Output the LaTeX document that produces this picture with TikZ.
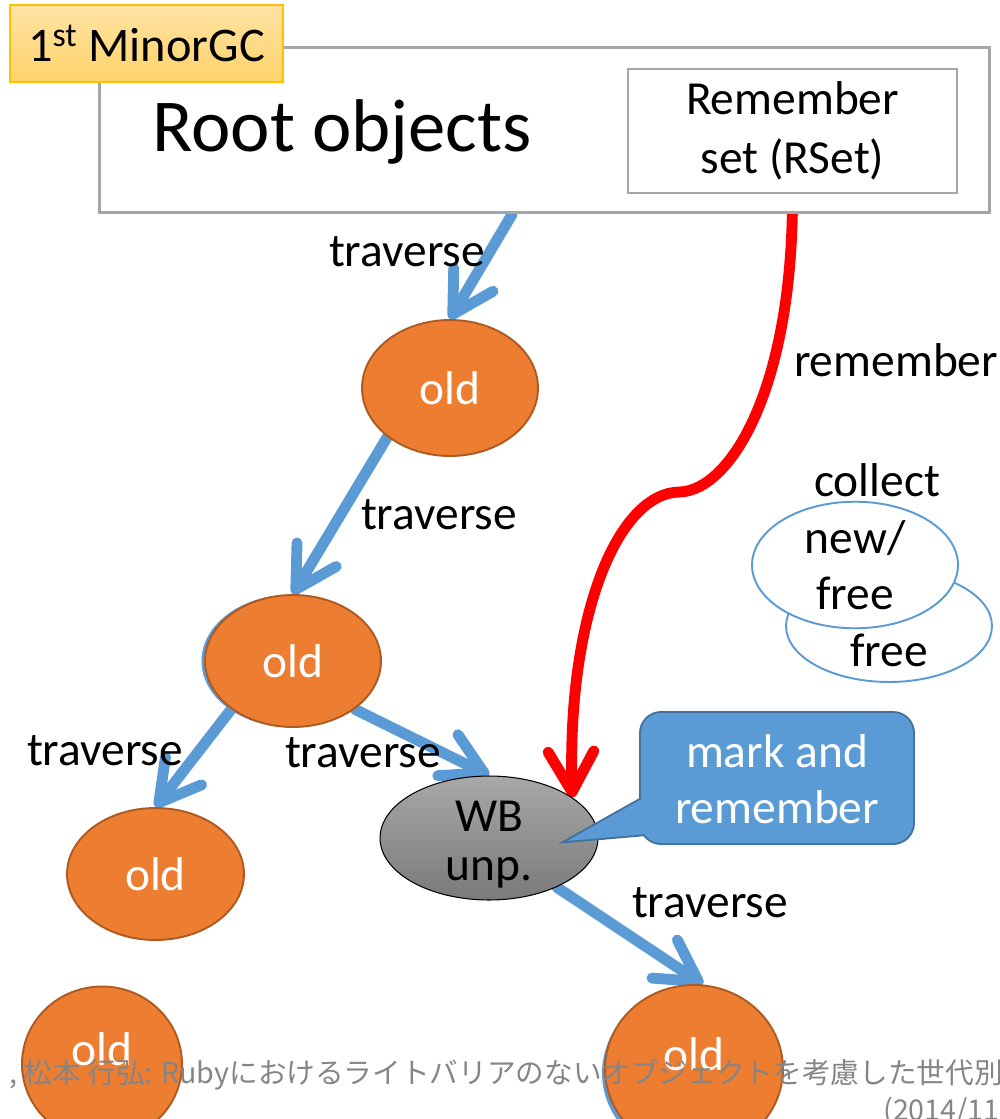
\documentclass[tikz,border=0pt]{standalone}
\usepackage{fontspec}
\setmainfont{Carlito}
\newfontfamily\jpfont{Noto Sans CJK JP}
\usetikzlibrary{arrows.meta,shapes.geometric,calc}
\pgfdeclarelayer{bg}
\pgfsetlayers{bg,main}
\definecolor{orangeF}{HTML}{ED7D31}
\definecolor{orangeD}{HTML}{AE5A21}
\definecolor{blueA}{HTML}{5B9BD5}
\definecolor{blueD}{HTML}{41719C}
\definecolor{boxgray}{HTML}{A6A6A6}
\definecolor{minorTop}{HTML}{FFE3A3}
\definecolor{minorBot}{HTML}{FFD36B}
\definecolor{minorBorder}{HTML}{FFC000}
\definecolor{wbTop}{HTML}{A8A8A8}
\definecolor{wbBot}{HTML}{7A7A7A}
\definecolor{citegray}{HTML}{858585}
\begin{document}
\begin{tikzpicture}[x=0.02cm,y=-0.02cm,
  font=\fontsize{27}{32}\selectfont,
  grbox/.style={draw=boxgray, fill=white, inner sep=0pt},
  minorbox/.style={draw=minorBorder, line width=1.1pt, top color=minorTop, bottom color=minorBot,
     minimum width=5.46cm, minimum height=1.54cm, inner sep=0pt, font=\fontsize{27.5}{32}\selectfont},
  oldnode/.style={ellipse, draw=orangeD, fill=orangeF, line width=1.1pt, text=white, inner sep=0pt},
  freeell/.style={ellipse, draw=blueA, fill=white, line width=1.1pt, inner sep=0pt},
  bluearr/.style={draw=blueA, line width=6.2pt, line cap=round,
     -{Straight Barb[length=23pt,width=26pt,round]}},
  redarr/.style={draw=red, line width=6.2pt, line cap=round,
     -{Straight Barb[length=23pt,width=26pt,round]}},
  cite/.style={anchor=east, inner sep=0pt, text=citegray, font=\jpfont\fontsize{16.3}{20}\selectfont}
]
\useasboundingbox (0,0) rectangle (1000,1119);

% boxes
\node[grbox, line width=1.7pt, minimum width=17.82cm, minimum height=3.32cm] (root) at (544.5,130) {};
\node[font=\fontsize{42.5}{50}\selectfont] (rootlabel) at (342,132) {Root objects};
\node[grbox, line width=1.4pt, minimum width=6.58cm, minimum height=2.48cm, align=center,
      font=\fontsize{27}{33.5}\selectfont] (rset) at (792.5,131) {Remember\\set (RSet)};
\node[minorbox] (minor) at (146.5,43.5) {1\textsuperscript{st} MinorGC};

% object nodes
\node[oldnode, minimum width=3.52cm, minimum height=2.72cm] (old1) at (450,388) {old};
\fill[blueA] (290,661) ellipse [x radius=1.77cm, y radius=1.32cm];
\node[oldnode, minimum width=3.52cm, minimum height=2.64cm] (old2) at (293,661) {old};
\node[oldnode, minimum width=3.54cm, minimum height=2.64cm] (old3) at (155.5,874) {old};
\node[oldnode, minimum width=3.2cm, minimum height=3.1cm] (old4) at (102,1064) {\raisebox{0.6cm}{old}};
\fill[blueA] (691,1073) ellipse [x radius=1.78cm, y radius=1.68cm];
\node[oldnode, minimum width=3.56cm, minimum height=3.36cm] (old5) at (694,1069) {\raisebox{0.6cm}{old}};
\node[ellipse, draw=black, line width=0.6pt, top color=wbTop, bottom color=wbBot,
      minimum width=4.36cm, minimum height=2.48cm, inner sep=0pt, font=\fontsize{27}{28}\selectfont] (wb) at (489,838)
      {\raisebox{-0.38cm}[0pt][0pt]{\begin{tabular}{@{}c@{}}WB\\unp.\end{tabular}}};

% free ellipses
\node[freeell, minimum width=4.12cm, minimum height=2.24cm] (freeback) at (889,626) {\raisebox{-0.82cm}[0pt][0pt]{free}};
\node[freeell, minimum width=4.12cm, minimum height=2.52cm, align=center] (freefront) at (855,565) {new/\\free};
\node (collect) at (877,480) {collect};
\node (remlabel) at (896,360) {remember};

% callout
\coordinate (ctip) at (567,841);
\path[draw=blueD, line width=2.2pt, rounded corners=0.4cm] (641,713) rectangle (913,843);
\path[draw=blueD, line width=2.2pt] (647,796) -- (ctip) -- (647,834) -- cycle;
\path[fill=blueA, rounded corners=0.4cm] (641,713) rectangle (913,843);
\path[fill=blueA] (647,796) -- (ctip) -- (647,834) -- cycle;
\node[text=white, align=center] (mark) at (777,779) {mark and\\remember};

% connectors
\begin{pgfonlayer}{bg}
\draw[bluearr] ([xshift=-0.65cm]root.south) -- (old1.north);
\draw[bluearr] (old1.218) -- (old2.north);
\draw[bluearr] (old2.218) -- (old3.north);
\draw[bluearr] (old2.322) -- (wb.north);
\draw[bluearr] (wb.324) -- (old5.84);
\draw[redarr] (rset.south) .. controls (793,390) and (730,490) .. (680,492)
   .. controls (620,492) and (567,610) .. (wb.26);
\end{pgfonlayer}

% labels
\node (t1) at (407,252) {traverse};
\node (t2) at (439,515) {traverse};
\node (t3) at (105,751) {traverse};
\node (t4) at (363,753) {traverse};
\node (t5) at (710,903) {traverse};

% citation
\node[cite] (cite1) at (1003,1075) {, 松本 行弘: Rubyにおけるライトバリアのないオブジェクトを考慮した世代別};
\node[cite] (cite2) at (1000,1112) {(2014/11};
\end{tikzpicture}
\end{document}
